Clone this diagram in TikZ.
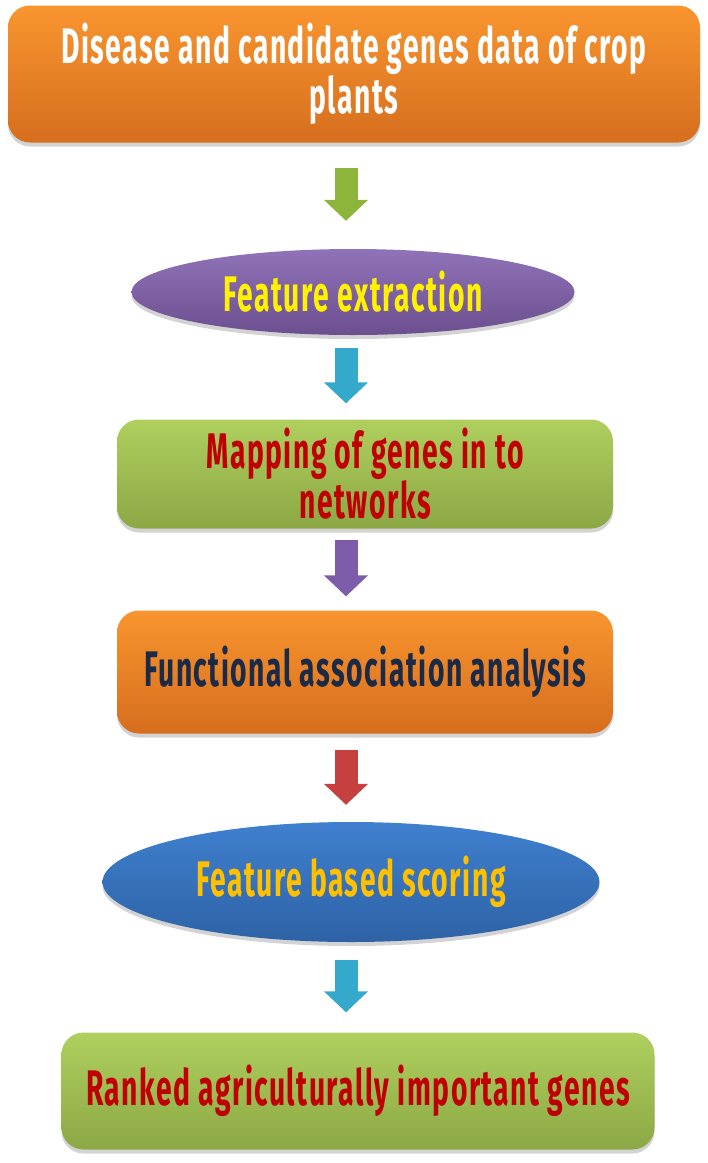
\documentclass[tikz,border=0pt]{standalone}
\usepackage{fontspec}
\newfontfamily\agency{Fira Sans}[FakeStretch=0.565, LetterSpace=3]
\usetikzlibrary{arrows.meta,shapes.geometric,shadows}

\definecolor{orgTop}{HTML}{F9952F}
\definecolor{orgBot}{HTML}{D66E1E}
\definecolor{grnTop}{HTML}{AFCF5E}
\definecolor{grnBot}{HTML}{8CA845}
\definecolor{purTop}{HTML}{9072B8}
\definecolor{purBot}{HTML}{6C4F8F}
\definecolor{bluTop}{HTML}{3F80CF}
\definecolor{bluBot}{HTML}{2E62A6}
\definecolor{arGreen}{HTML}{8DB53C}
\definecolor{arCyan}{HTML}{35A9CB}
\definecolor{arPurple}{HTML}{7D5DAA}
\definecolor{arRed}{HTML}{C5403E}
\definecolor{txtRed}{HTML}{C00000}
\definecolor{txtNavy}{HTML}{1B2A47}
\definecolor{txtGold}{HTML}{FFC000}

\begin{document}
\begin{tikzpicture}[x=1pt, y=1pt,
    font=\agency\bfseries\fontsize{50}{50}\selectfont,
    step box/.style={rounded corners=22pt, align=center, inner sep=0pt,
      drop shadow={shadow xshift=0pt, shadow yshift=-4pt, opacity=0.35}},
    step oval/.style={ellipse, align=center, inner sep=0pt,
      drop shadow={shadow xshift=0pt, shadow yshift=-4pt, opacity=0.35}},
    orange fill/.style={top color=orgTop, bottom color=orgBot},
    green fill/.style={top color=grnTop, bottom color=grnBot},
    flow/.style={line width=23pt, draw=#1, -{Triangle[width=43pt, length=21pt]}}]
  \useasboundingbox (0,0) rectangle (708,-1163);

  % blocks, top to bottom
  \node[step box, orange fill, text=white, minimum width=692pt, minimum height=137pt]
    (src) at (354,-74) {Disease and candidate genes data of crop\\ plants};
  \node[step oval, top color=purTop, bottom color=purBot, text=yellow,
    minimum width=443pt, minimum height=86pt] (feat) at (353,-292) {Feature extraction};
  \node[step box, green fill, text=txtRed, minimum width=496pt, minimum height=109pt]
    (map) at (365,-474) {Mapping of genes in to\\ networks};
  \node[step box, orange fill, text=txtNavy, minimum width=496pt, minimum height=123pt]
    (func) at (365,-672) {Functional association analysis};
  \node[step oval, top color=bluTop, bottom color=bluBot, text=txtGold,
    minimum width=497pt, minimum height=120pt] (score) at (351,-882) {Feature based scoring};
  \node[step box, green fill, text=txtRed, minimum width=593pt, minimum height=117pt]
    (rank) at (358,-1091) {Ranked agriculturally important genes};

  % block arrows, all on one vertical line
  \coordinate (ax) at (346,0);
  \draw[flow=arGreen, shorten <=25pt, shorten >=28pt] (src.south -| ax) -- (feat.north -| ax);
  \draw[flow=arCyan, shorten <=13pt, shorten >=16pt] (feat.south -| ax) -- (map.north -| ax);
  \draw[flow=arPurple, shorten <=11pt, shorten >=14pt] (map.south -| ax) -- (func.north -| ax);
  \draw[flow=arRed, shorten <=16pt, shorten >=17pt] (func.south -| ax) -- (score.north -| ax);
  \draw[flow=arCyan, shorten <=18pt, shorten >=20pt] (score.south -| ax) -- (rank.north -| ax);
\end{tikzpicture}
\end{document}
